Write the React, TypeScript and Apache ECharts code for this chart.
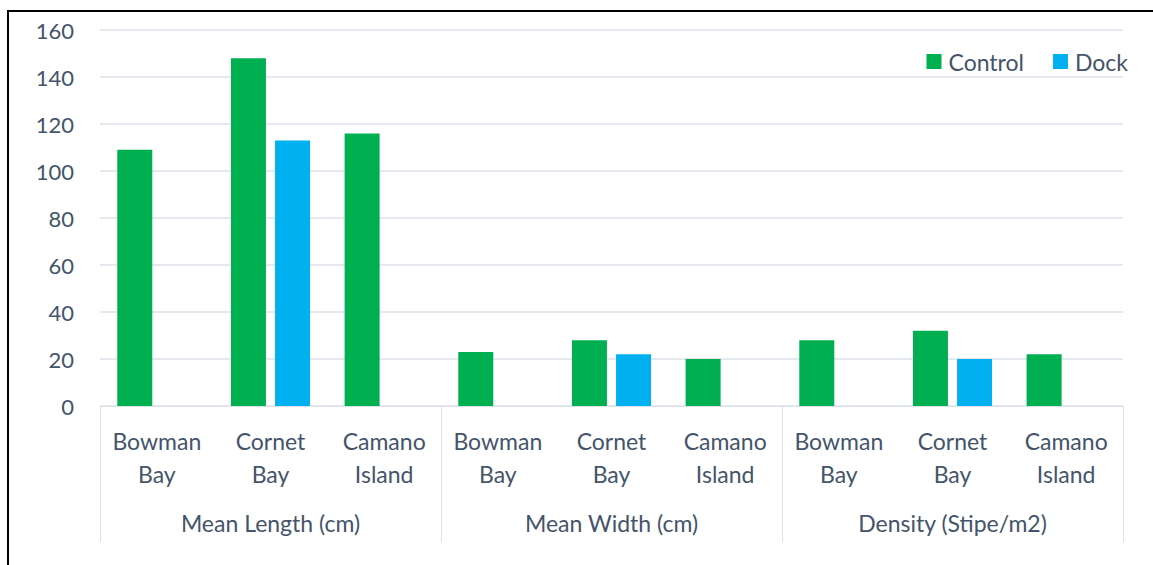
import React, { useEffect, useRef } from "react";
import * as echarts from "echarts";

const categories = [
  "Bowman\nBay", "Cornet\nBay", "Camano\nIsland",
  "Bowman\nBay", "Cornet\nBay", "Camano\nIsland",
  "Bowman\nBay", "Cornet\nBay", "Camano\nIsland",
];
const groups = ["Mean Length (cm)", "Mean Width (cm)", "Density (Stipe/m2)"];
const controlValues = [109, 148, 116, 23, 28, 20, 28, 32, 22];
const dockValues = [null, 113, null, null, 22, null, null, 20, null];
const yTicks = { min: 0, max: 160, interval: 20 };

const TEXT = "#44546a";
const GRIDC = "#dde1e8";
const FONT = "Lato, 'Open Sans', sans-serif";

export default function App() {
  const ref = useRef<HTMLDivElement>(null);
  useEffect(() => {
    if (!ref.current) return;
    const chart = echarts.init(ref.current, undefined, { renderer: "svg" });
    chart.setOption({
      animation: false,
      textStyle: { fontFamily: FONT },
      graphic: [
        { type: "line", shape: { x1: 7, y1: 11, x2: 1160, y2: 11 }, style: { stroke: "#000", lineWidth: 2 } },
        { type: "line", shape: { x1: 8, y1: 10, x2: 8, y2: 570 }, style: { stroke: "#000", lineWidth: 2 } },
      ],
      legend: {
        right: 20,
        top: 45,
        icon: "rect",
        itemWidth: 15,
        itemHeight: 15,
        itemGap: 29,
        textStyle: { fontSize: 23, color: TEXT, fontFamily: FONT, padding: [0, 0, 0, 2] },
        data: ["Control", "Dock"],
      },
      grid: { left: 100, right: 30, top: 30, bottom: 159, containLabel: false, outerBoundsMode: "none" },
      xAxis: [
        {
          type: "category",
          data: categories,
          position: "bottom",
          axisLine: { show: true, lineStyle: { color: GRIDC, width: 1 } },
          axisTick: { show: false },
          axisLabel: { interval: 0, margin: 18, fontSize: 23, lineHeight: 33, color: TEXT, fontFamily: FONT },
        },
        {
          type: "category",
          data: groups,
          position: "bottom",
          axisLine: { show: false },
          axisTick: { show: true, length: 136, lineStyle: { color: GRIDC, width: 1 } },
          axisLabel: { interval: 0, margin: 100, fontSize: 23, lineHeight: 33, color: TEXT, fontFamily: FONT },
        },
      ],
      yAxis: {
        type: "value",
        min: yTicks.min,
        max: yTicks.max,
        interval: yTicks.interval,
        axisLine: { show: false },
        axisTick: { show: false },
        splitLine: { lineStyle: { color: GRIDC, width: 1.5 } },
        axisLabel: { margin: 26, fontSize: 22, color: TEXT, fontFamily: FONT },
      },
      series: [
        {
          name: "Control",
          type: "bar",
          xAxisIndex: 0,
          data: controlValues,
          barWidth: 35,
          barGap: "26%",
          itemStyle: { color: "#00b050" },
        },
        {
          name: "Dock",
          type: "bar",
          xAxisIndex: 0,
          data: dockValues,
          barWidth: 35,
          barGap: "26%",
          itemStyle: { color: "#00b0f0" },
        },
      ],
    });
    return () => chart.dispose();
  }, []);
  return (
    <div
      ref={ref}
      style={{ position: "fixed", left: 0, top: 0, width: 1153, height: 565, background: "#fff" }}
    />
  );
}
